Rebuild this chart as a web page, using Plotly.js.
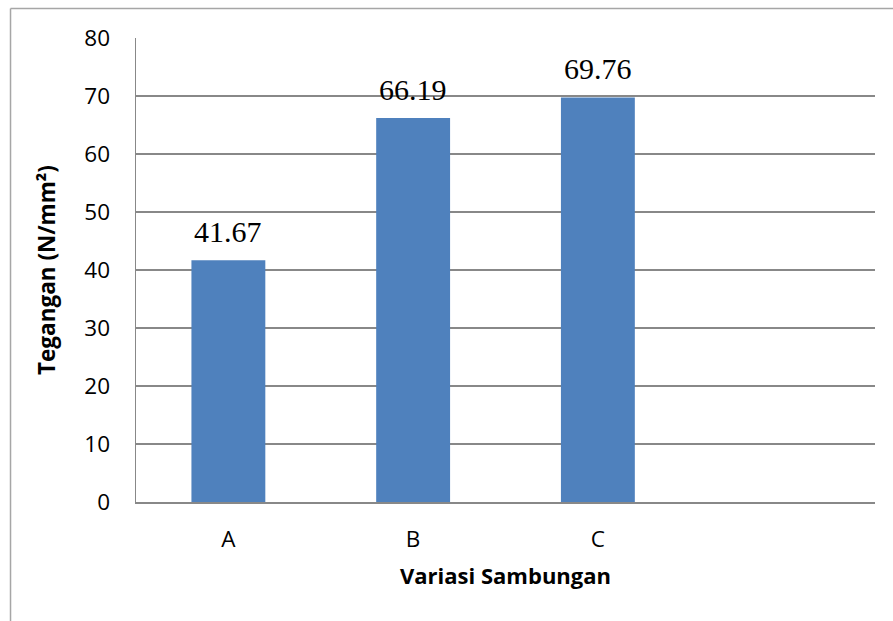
<!DOCTYPE html>
<html>
<head>
<meta charset="utf-8">
<script src="https://cdn.plot.ly/plotly-3.0.1.min.js"></script>
<style>
html,body{margin:0;padding:0;background:#fff;}
#chart{width:893px;height:621px;}
</style>
</head>
<body>
<div id="chart"></div>
<script>
const categories = ['A', 'B', 'C'];
const values = [41.67, 66.19, 69.76];
const valueLabels = ['41.67', '66.19', '69.76'];
const yTicks = [0, 10, 20, 30, 40, 50, 60, 70, 80];

const trace = {
  type: 'bar',
  x: categories,
  y: values,
  marker: {color: '#4F81BD', line: {width: 0}},
  hoverinfo: 'none'
};

const annotations = categories.map((c, i) => ({
  x: c, y: values[i], xref: 'x', yref: 'y',
  text: valueLabels[i], showarrow: false,
  yanchor: 'bottom', yshift: 10,
  font: {family: 'Liberation Serif, Times New Roman, serif', size: 30, color: '#000'}
}));

const grey = '#888888';
const layout = {
  width: 893, height: 621,
  margin: {l: 136, r: 18, t: 38, b: 119},
  paper_bgcolor: '#fff', plot_bgcolor: '#fff',
  showlegend: false,
  bargap: 0.6,
  font: {family: 'Open Sans, Noto Sans, sans-serif', size: 22, color: '#000'},
  xaxis: {
    type: 'category',
    categoryarray: categories,
    range: [-0.5, 3.5],
    showgrid: false,
    showline: true, linecolor: grey, linewidth: 1.5,
    ticks: '', ticklabelstandoff: 16,
    tickfont: {size: 22.5},
    title: {text: 'Variasi Sambungan', font: {size: 22, weight: 'bold'}, standoff: 16},
    fixedrange: true
  },
  yaxis: {
    range: [0, 80],
    tickvals: yTicks,
    showgrid: true, gridcolor: grey, gridwidth: 1.5,
    showline: true, linecolor: grey, linewidth: 1.5,
    zeroline: false,
    ticks: '', ticklabelstandoff: 20,
    tickfont: {size: 22.5},
    title: {text: 'Tegangan (N/mm²)', font: {size: 22.5, weight: 'bold'}, standoff: 22},
    fixedrange: true
  },
  annotations: annotations,
  shapes: [
    {type: 'line', xref: 'paper', yref: 'paper', x0: -0.1698, x1: -0.1698, y0: 1.0636, y1: -0.3, line: {color: '#a6a6a6', width: 1.5}},
    {type: 'line', xref: 'paper', yref: 'paper', x0: -0.1698, x1: 1.05, y0: 1.0636, y1: 1.0636, line: {color: '#a6a6a6', width: 1.5}}
  ]
};

Plotly.newPlot('chart', [trace], layout, {displayModeBar: false, staticPlot: true});
</script>
</body>
</html>
